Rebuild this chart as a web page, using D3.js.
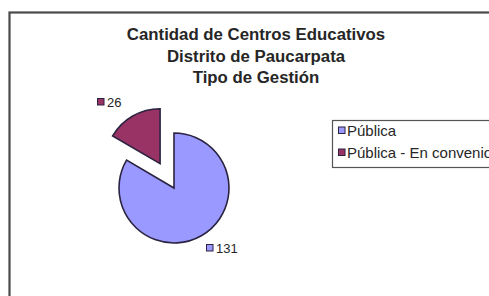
<!DOCTYPE html>
<html><head><meta charset="utf-8">
<script src="https://cdn.jsdelivr.net/npm/d3@7"></script>
<style>body{margin:0;background:#fff;}svg{display:block;}</style>
</head><body>
<svg id="c" width="489" height="296"></svg>
<script>
const titleLines = ["Cantidad de Centros Educativos", "Distrito de Paucarpata", "Tipo de Gestión"];
const categories = ["Pública", "Pública - En convenio"];
const values = [131, 26];
const colors = ["#9999FF", "#993366"];
const exploded = [false, true];

const FONT = "Liberation Sans, Arial, sans-serif";
const svg = d3.select("#c");
// frame
svg.append("rect").attr("x", 10).attr("y", 13).attr("width", 520).attr("height", 320)
  .attr("fill", "none").attr("stroke", "#ccc").attr("stroke-width", 1.5).attr("transform", "translate(1,1)");
svg.append("rect").attr("x", 9.5).attr("y", 12.5).attr("width", 520).attr("height", 320)
  .attr("fill", "#fff").attr("stroke", "#4a4a4a").attr("stroke-width", 2.2);

// title
const title = svg.append("text").attr("text-anchor", "middle")
  .attr("font-family", FONT).attr("font-weight", "bold")
  .attr("font-size", 16.8).attr("fill", "#262626");
titleLines.forEach((t, i) => title.append("tspan").attr("x", 256).attr("y", 40 + i * 21.5).text(t));

// pie
const cx = 174, cy = 188, r = 55, explode = 28;
const pie = d3.pie().sort(null).value(d => d)(values);
const arc = d3.arc().innerRadius(0).outerRadius(r);
const g = svg.append("g").attr("transform", `translate(${cx},${cy})`);
g.selectAll("path").data(pie).join("path")
  .attr("d", arc)
  .attr("fill", (d, i) => colors[i])
  .attr("stroke", "#2b2340").attr("stroke-width", 1.6).attr("stroke-linejoin", "miter")
  .attr("transform", (d, i) => {
    if (!exploded[i]) return null;
    const a = (d.startAngle + d.endAngle) / 2;
    return `translate(${Math.sin(a) * explode},${-Math.cos(a) * explode})`;
  });

// data labels
const labelPos = [[206, 253], [97, 107]];
const labels = svg.append("g").attr("font-family", FONT).attr("font-size", 13).attr("fill", "#262626");
values.forEach((v, i) => {
  const [x, y] = labelPos[i];
  labels.append("rect").attr("x", x + 0.5).attr("y", y - 8.5).attr("width", 6.5).attr("height", 6.5)
    .attr("fill", colors[i]).attr("stroke", "#2b2340").attr("stroke-width", 1);
  labels.append("text").attr("x", x + 10).attr("y", y).text(v);
});

// legend
const lg = svg.append("g");
lg.append("rect").attr("x", 332.5).attr("y", 120.5).attr("width", 200).attr("height", 47)
  .attr("fill", "#fff").attr("stroke", "#555").attr("stroke-width", 1.2);
categories.forEach((c, i) => {
  const y = 136 + i * 22;
  lg.append("rect").attr("x", 338.5).attr("y", y - 9).attr("width", 6.5).attr("height", 6.5)
    .attr("fill", colors[i]).attr("stroke", "#2b2340").attr("stroke-width", 1);
  lg.append("text").attr("x", 347).attr("y", y)
    .attr("font-family", FONT).attr("font-size", 15).attr("fill", "#262626").text(c);
});
</script>
</body></html>
